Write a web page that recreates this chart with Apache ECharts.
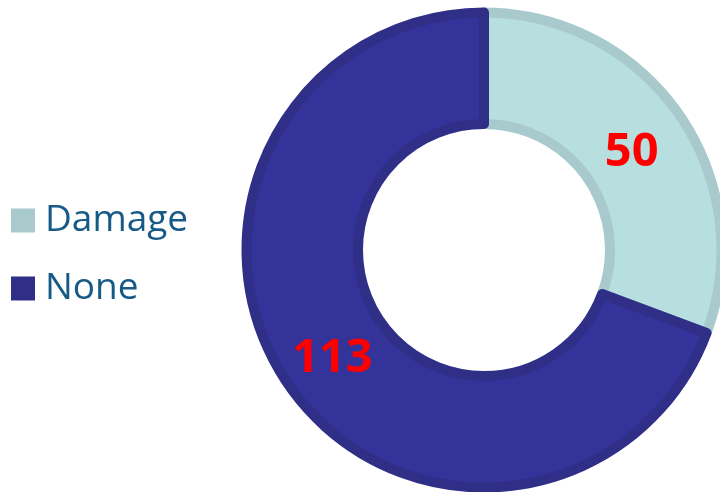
<!DOCTYPE html>
<html><head><meta charset="utf-8">
<script src="https://cdn.jsdelivr.net/npm/echarts@6/dist/echarts.min.js"></script>
<style>html,body{margin:0;padding:0;background:#fff}#c{width:720px;height:492px}</style>
</head><body><div id="c"></div>
<script>
const categories = ["Damage", "None"];
const values = [50, 113];
const fillColors = ["#b8dfe0", "#333399"];
const borderColors = ["#a8cacd", "#2f2f88"];
const labelOffsets = [[-4, 8], [0, 3]];

const chart = echarts.init(document.getElementById('c'), null, {renderer: 'canvas'});
chart.setOption({
  animation: false,
  legend: {
    orient: 'vertical',
    left: 6,
    top: 197,
    itemWidth: 24,
    itemHeight: 24,
    itemGap: 31,
    icon: 'rect',
    textStyle: {fontFamily: 'Open Sans', fontSize: 37, color: '#185a87', padding: [0, 0, 0, 5]},
    data: categories.map((c, i) => ({name: c, itemStyle: {color: borderColors[i], borderWidth: 0}}))
  },
  series: [{
    type: 'pie',
    center: [484, 250],
    radius: [126, 237.5],
    startAngle: 90,
    clockwise: true,
    label: {
      show: true,
      position: 'inside',
      formatter: '{c}',
      color: '#ff0000',
      fontFamily: 'Open Sans',
      fontWeight: 'bold',
      fontSize: 47
    },
    labelLine: {show: false},
    emphasis: {disabled: true},
    data: categories.map((c, i) => ({
      name: c, value: values[i],
      label: {offset: labelOffsets[i]},
      itemStyle: {color: fillColors[i], borderColor: borderColors[i], borderWidth: 10}
    }))
  }]
});
</script></body></html>
